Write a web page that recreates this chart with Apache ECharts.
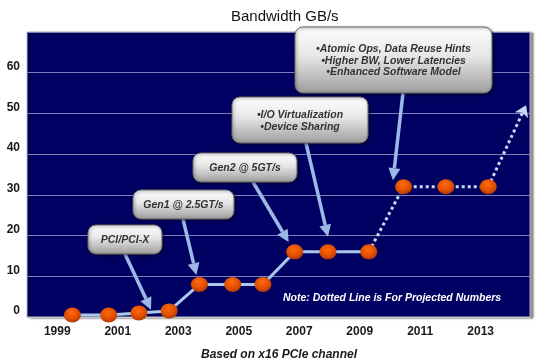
<!DOCTYPE html>
<html>
<head>
<meta charset="utf-8">
<script src="https://cdn.jsdelivr.net/npm/echarts@6/dist/echarts.min.js"></script>
<style>html,body{margin:0;padding:0;background:#fff;}#c{width:540px;height:364px;}</style>
</head>
<body>
<div id="c"></div>
<script>
// ---- data ----
const years = [1999.5, 2000.7, 2001.7, 2002.7, 2003.7, 2004.8, 2005.8, 2006.85, 2007.95, 2009.3, 2010.45, 2011.85, 2013.25];
const bandwidth = [0.5, 0.5, 1, 1.5, 8, 8, 8, 16, 16, 16, 32, 32, 32];
const projectedFrom = 9;            // index where the dotted (projected) line starts
const projectedEnd = [2014.5, 52];  // arrow end of the projection
const xTickLabels = [1999, 2001, 2003, 2005, 2007, 2009, 2011, 2013];
const yTickLabels = [0, 10, 20, 30, 40, 50, 60];
const titleText = 'Bandwidth GB/s';
const footText = 'Based on x16 PCIe channel';
const noteText = 'Note: Dotted Line is For Projected Numbers';
const calloutTexts = [
  ['PCI/PCI-X'],
  ['Gen1 @ 2.5GT/s'],
  ['Gen2 @ 5GT/s'],
  ['\u2022I/O Virtualization', '\u2022Device Sharing'],
  ['\u2022Atomic Ops, Data Reuse Hints', '\u2022Higher BW, Lower Latencies', '\u2022Enhanced Software Model']
];
const calloutTargets = [[2002.1, 1.8], [2003.6, 10.3], [2006.65, 18.4], [2007.95, 19.7], [2010.1, 33.6]];

// ---- layout (pixels) ----
const calloutBoxes = [
  {x: 88, y: 225, w: 74, h: 29, ax: 125},
  {x: 133, y: 190, w: 101, h: 29, ax: 183},
  {x: 193, y: 153, w: 104, h: 29, ax: 253},
  {x: 232, y: 97, w: 136, h: 46, ax: 306},
  {x: 295, y: 27, w: 197, h: 66, ax: 403}
];

const FONT = "'Liberation Sans', Arial, sans-serif";
const solidPts = years.slice(0, projectedFrom + 1).map((x, i) => [x, bandwidth[i]]);
const projPts = years.slice(projectedFrom).map((x, i) => [x, bandwidth[projectedFrom + i]]);
const allPts = years.map((x, i) => [x, bandwidth[i]]);

const chart = echarts.init(document.getElementById('c'), null, {renderer: 'canvas'});
chart.setOption({
  animation: false,
  title: {
    text: titleText, left: 226, top: 4,
    textStyle: {fontFamily: FONT, fontSize: 15, fontWeight: 'normal', color: '#111'}
  },
  grid: {
    left: 27, right: 10, top: 32, bottom: 47, show: true,
    backgroundColor: '#000062', borderColor: '#b8b8c8', borderWidth: 1,
    shadowColor: 'rgba(0,0,0,0.45)', shadowBlur: 2, shadowOffsetX: 3, shadowOffsetY: 1
  },
  xAxis: {
    type: 'value', min: 1998, max: 2014.63, interval: 1,
    axisLine: {show: true, lineStyle: {color: '#c8c8c8', width: 1}},
    axisTick: {show: false}, splitLine: {show: false},
    axisLabel: {
      margin: 9, fontFamily: FONT, fontSize: 12, fontWeight: 'bold', color: '#1a1a1a',
      formatter: v => xTickLabels.indexOf(Math.round(v * 100) / 100) >= 0 ? String(v) : ''
    }
  },
  yAxis: {
    type: 'value', min: 0, max: 70, interval: 10,
    axisLine: {show: false}, axisTick: {show: false},
    splitLine: {show: true, lineStyle: {color: '#7f7fb8', width: 1}},
    axisLabel: {
      margin: 7, verticalAlign: 'bottom', fontFamily: FONT, fontSize: 12, fontWeight: 'bold', color: '#1a1a1a',
      formatter: v => yTickLabels.indexOf(v) >= 0 ? String(v) : ''
    }
  },
  series: [
    {
      type: 'line', data: solidPts, showSymbol: false, z: 2,
      lineStyle: {color: '#a9c8ec', width: 3}
    },
    {
      type: 'line', data: projPts, showSymbol: false, z: 2,
      lineStyle: {color: '#c6dcf2', width: 3, type: [3, 3]}
    },
    {
      type: 'lines', coordinateSystem: 'cartesian2d', z: 2,
      symbol: ['none', 'arrow'], symbolSize: 11,
      lineStyle: {color: '#c6dcf2', width: 3, type: [3, 3], opacity: 1},
      data: [{coords: [allPts[allPts.length - 1], projectedEnd]}]
    },
    {
      type: 'scatter', data: allPts, z: 5, symbol: 'circle', symbolSize: [17, 15],
      itemStyle: {
        opacity: 1,
        color: {type: 'radial', x: 0.45, y: 0.35, r: 0.7,
          colorStops: [{offset: 0, color: '#ff6a0a'}, {offset: 0.6, color: '#e04e00'}, {offset: 1, color: '#a83400'}]}
      }
    }
  ]
});

// ---- callouts & annotations ----
const graphics = [];
const ARROW = '#9cb9e6';
calloutBoxes.forEach((b, i) => {
  const tip = chart.convertToPixel({gridIndex: 0}, calloutTargets[i]);
  const sx = b.ax, sy = b.y + b.h;
  const dx = tip[0] - sx, dy = tip[1] - sy;
  const len = Math.sqrt(dx * dx + dy * dy);
  const ux = dx / len, uy = dy / len;
  const hl = 12, hw = 6;
  const bx = tip[0] - ux * hl, by = tip[1] - uy * hl;
  graphics.push({
    type: 'line', z: 10,
    shape: {x1: sx, y1: sy, x2: bx, y2: by},
    style: {stroke: ARROW, lineWidth: 3.5}
  });
  graphics.push({
    type: 'polygon', z: 10,
    shape: {points: [[tip[0], tip[1]], [bx - uy * hw, by + ux * hw], [bx + uy * hw, by - ux * hw]]},
    style: {fill: ARROW}
  });
  graphics.push({
    type: 'rect', z: 11,
    shape: {x: b.x, y: b.y, width: b.w, height: b.h, r: 8},
    style: {
      fill: {type: 'linear', x: 0, y: 0, x2: 0, y2: 1,
        colorStops: [{offset: 0, color: '#ffffff'}, {offset: 0.45, color: '#e6e6e6'}, {offset: 1, color: '#9c9c9c'}]},
      stroke: '#6a6a6a', lineWidth: 1,
      shadowColor: 'rgba(0,0,0,0.5)', shadowBlur: 3, shadowOffsetX: 1, shadowOffsetY: 1
    }
  });
  graphics.push({
    type: 'text', z: 12,
    style: {
      text: calloutTexts[i].join('\n'), x: b.x + b.w / 2, y: b.y + b.h / 2 + 1,
      align: 'center', verticalAlign: 'middle', lineHeight: 11.5,
      font: "italic bold 10.5px " + FONT, fill: '#333'
    }
  });
});
graphics.push({
  type: 'text', z: 12,
  style: {text: noteText, x: 283, y: 298, verticalAlign: 'middle',
    font: "italic bold 10.5px " + FONT, fill: '#ffffff'}
});
graphics.push({
  type: 'text', z: 12,
  style: {text: footText, x: 279, y: 355, align: 'center', verticalAlign: 'middle',
    font: "italic bold 12px " + FONT, fill: '#1a1a1a'}
});
chart.setOption({graphic: graphics});
</script>
</body>
</html>
